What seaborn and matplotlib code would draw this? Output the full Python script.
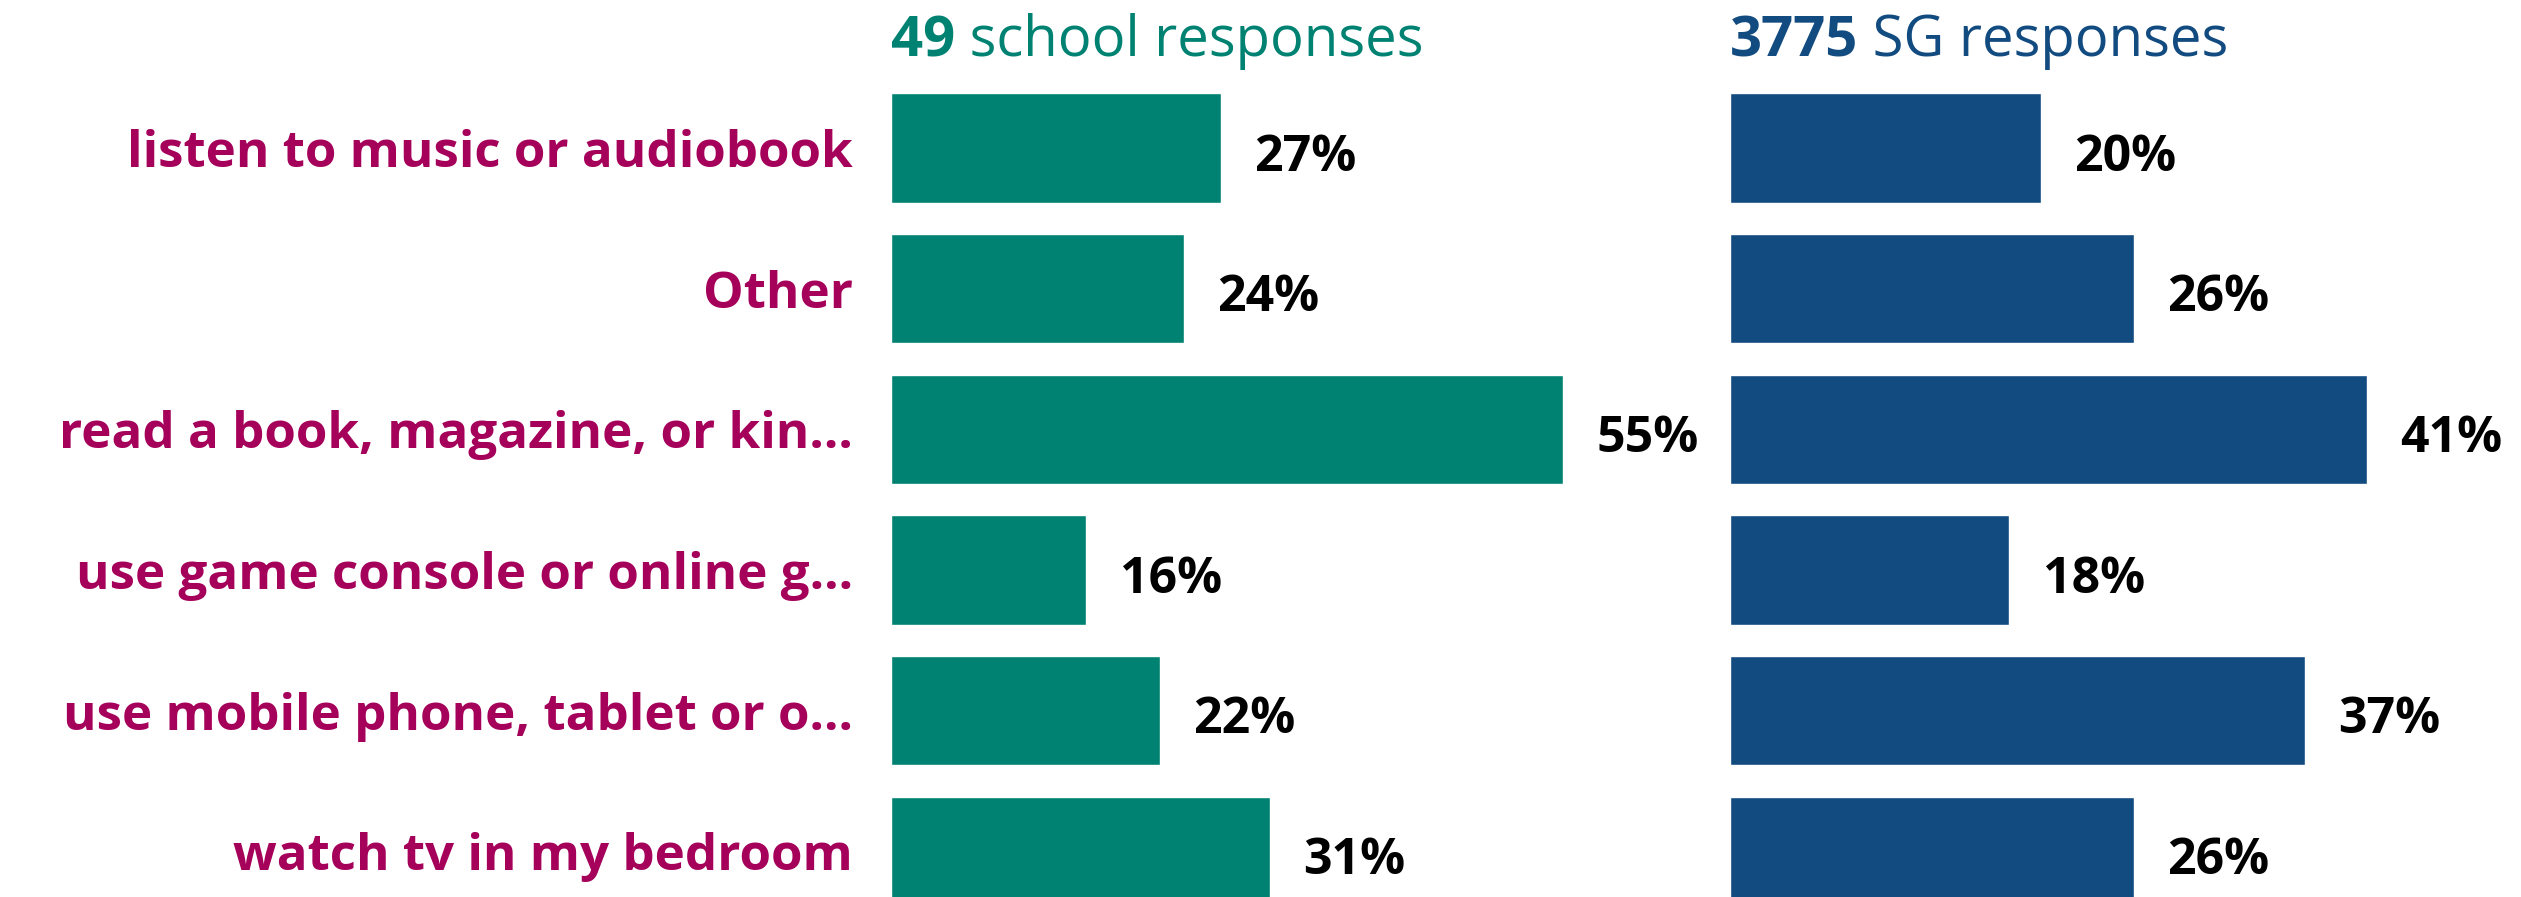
import matplotlib
matplotlib.use("Agg")
import matplotlib.pyplot as plt
import seaborn as sns

categories = ["listen to music or audiobook", "Other", "read a book, magazine, or kin...",
              "use game console or online g...", "use mobile phone, tablet or o...",
              "watch tv in my bedroom"]
school_pct = [27, 24, 55, 16, 22, 31]
sg_pct = [20, 26, 41, 18, 37, 26]
school_n = "49"
sg_n = "3775"

TEAL = "#008272"
BLUE = "#124B80"
MAGENTA = "#A5005A"

sns.set_theme(style="white")
plt.rcParams['font.family'] = ['Open Sans', 'DejaVu Sans']

fig = plt.figure(figsize=(25.21, 8.97), dpi=100)

# axes placed so that rows match the reference pitch
unit = 87.5 / 558
top = (92 - 43.75) / 558
h = 6 * unit
y0 = 1 - top - h

ax1 = fig.add_axes([554 / 1568, y0, 0.30, h])
ax2 = fig.add_axes([1076 / 1568, y0, 0.30, h])

panels = [(ax1, school_pct, TEAL, 470 / 7.6, school_n, " school responses"),
          (ax2, sg_pct, BLUE, 470 / 9.65, sg_n, " SG responses")]

title_base = 841  # figure pixels from bottom

for ax, vals, col, xmax, n, rest in panels:
    sns.barplot(x=vals, y=categories, ax=ax, color=col, orient="h", width=0.777,
                saturation=1)
    ax.set_xlim(0, xmax)
    ax.set_ylim(5.5, -0.5)
    ax.set_xticks([])
    ax.set_xlabel("")
    ax.set_ylabel("")
    sns.despine(ax=ax, left=True, bottom=True)
    for i, v in enumerate(vals):
        ax.annotate(f"{v}%", xy=(v, i), xytext=(24, -7), textcoords="offset points",
                    va="center", ha="left", fontsize=36, fontweight="bold", color="black")
    # title: bold count + regular text
    t1 = ax.annotate(n, xy=(0, title_base), xycoords=("axes fraction", "figure pixels"),
                     fontsize=40.5, fontweight="bold", color=col, va="baseline", ha="left")
    ax.annotate(rest, xy=(1, title_base), xycoords=(t1, "figure pixels"),
                va="baseline", ha="left", fontsize=40.5, color=col)

ax1.tick_params(axis="y", length=0, pad=27)
for lab in ax1.get_yticklabels():
    lab.set_color(MAGENTA)
    lab.set_fontweight("bold")
    lab.set_fontsize(36.8)
ax2.set_yticklabels([])
ax2.tick_params(axis="y", length=0)

fig.savefig("out.png", dpi=100)
